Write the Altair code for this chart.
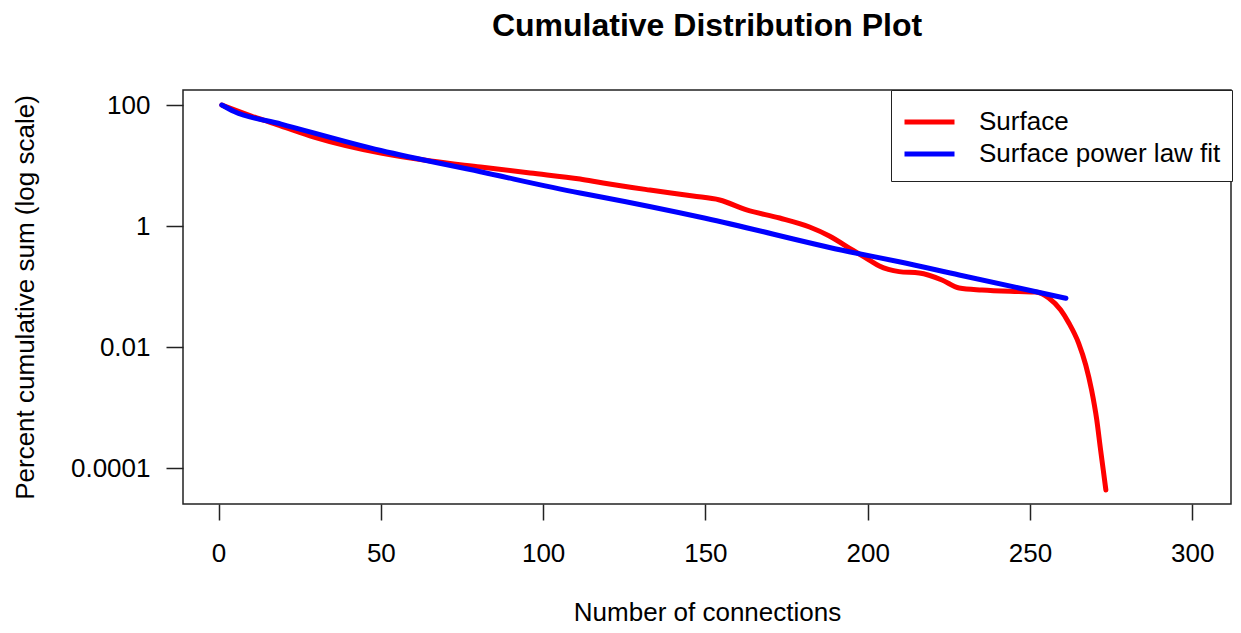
import altair as alt
import pandas as pd

# ---- data ----
surface_x = [1, 10.1, 19.3, 29.4, 50.0, 65.4, 80.7, 96.0, 111.4, 118.5, 132.9, 146.2,
             154.4, 162.7, 172.9, 182.1, 188.2, 195.3, 200.5, 203.6, 209.7, 215.9,
             222.9, 228.2, 235.2, 246.6, 251.8, 255.8, 259.5, 262.0, 265.0, 267.2,
             269.0, 270.6, 271.7, 272.6, 273.4]
surface_y = [100, 65.8, 45.0, 29.6, 16.1, 11.9, 9.46, 7.53, 6.0, 5.15, 3.94, 3.14,
             2.70, 1.85, 1.36, 0.966, 0.687, 0.403, 0.275, 0.219, 0.177, 0.168,
             0.129, 0.095, 0.088, 0.0832, 0.0816, 0.065, 0.0411, 0.0251, 0.0117, 0.00508,
             0.00196, 0.000628, 0.000216, 0.0000937, 0.0000439]

fit_x = [1, 4.8, 19.3, 50.0, 80.7, 111.4, 117.5, 150.0, 194.3, 209.7, 228.2, 261.1]
fit_y = [100, 78.2, 48.5, 17.7, 7.9, 3.52, 3.06, 1.35, 0.377, 0.258, 0.156, 0.0643]

series_names = ["Surface", "Surface power law fit"]
series_colors = ["#FF0000", "#0000FF"]
x_ticks = [0, 50, 100, 150, 200, 250, 300]
y_ticks = [100, 1, 0.01, 0.0001]

FONT = "Liberation Sans"

df_s = pd.DataFrame({"x": surface_x, "y": surface_y, "series": series_names[0]})
df_f = pd.DataFrame({"x": fit_x, "y": fit_y, "series": series_names[1]})

color = alt.Color(
    "series:N",
    scale=alt.Scale(domain=series_names, range=series_colors),
    legend=alt.Legend(
        title=" ", titleFontSize=5, titlePadding=0,
        orient="none", legendX=708, legendY=0,
        padding=11, strokeColor="#222222", fillColor="white",
        symbolType="stroke", symbolStrokeWidth=5, symbolSize=2500,
        labelFontSize=26, labelFont=FONT, labelColor="black", labelOffset=22,
        labelLimit=600, clipHeight=32, rowPadding=0, cornerRadius=0,
    ),
)

x_enc = alt.X(
    "x:Q",
    scale=alt.Scale(domain=[-10.96, 311.96], nice=False, zero=False),
    axis=alt.Axis(
        values=x_ticks, title="Number of connections", grid=False, domain=False,
        tickSize=16, tickWidth=1.5, tickColor="#222222",
        labelFontSize=26, labelFont=FONT, labelColor="black", labelPadding=20,
        titleFontSize=26, titleFont=FONT, titleFontWeight="normal", titleColor="black",
        titleY=121, titleBaseline="bottom", labelFlush=False,
    ),
)
y_enc = alt.Y(
    "y:Q",
    scale=alt.Scale(type="log", domain=[10 ** -4.59, 10 ** 2.248], nice=False),
    axis=alt.Axis(
        values=y_ticks, format="~g", title="Percent cumulative sum (log scale)",
        grid=False, domain=False,
        tickSize=17, tickWidth=1.5, tickColor="#222222",
        labelFontSize=26, labelFont=FONT, labelColor="black", labelPadding=16,
        labelFlush=False,
        titleFontSize=26, titleFont=FONT, titleFontWeight="normal", titleColor="black",
        titleX=-158, titleY=207, titleBaseline="middle", titleAngle=-90,
    ),
)

red = alt.Chart(df_s).mark_line(strokeWidth=5, interpolate="monotone", strokeCap="round").encode(
    x=x_enc, y=y_enc, color=color
)
blue = alt.Chart(df_f).mark_line(strokeWidth=5, interpolate="monotone", strokeCap="round").encode(
    x=x_enc, y=y_enc, color=color
)

chart = alt.layer(red, blue).properties(
    width=1048, height=414,
    title=alt.TitleParams("Cumulative Distribution Plot", fontSize=32, font=FONT,
                          fontWeight="bold", anchor="middle", offset=47, color="black"),
    autosize=alt.AutoSizeParams(type="none"),
    padding={"left": 175, "top": 82, "right": 2, "bottom": 121},
).configure_view(stroke="#222222", strokeWidth=1.5)

chart.save("out.html", embed_options={"renderer": "svg", "actions": False})
